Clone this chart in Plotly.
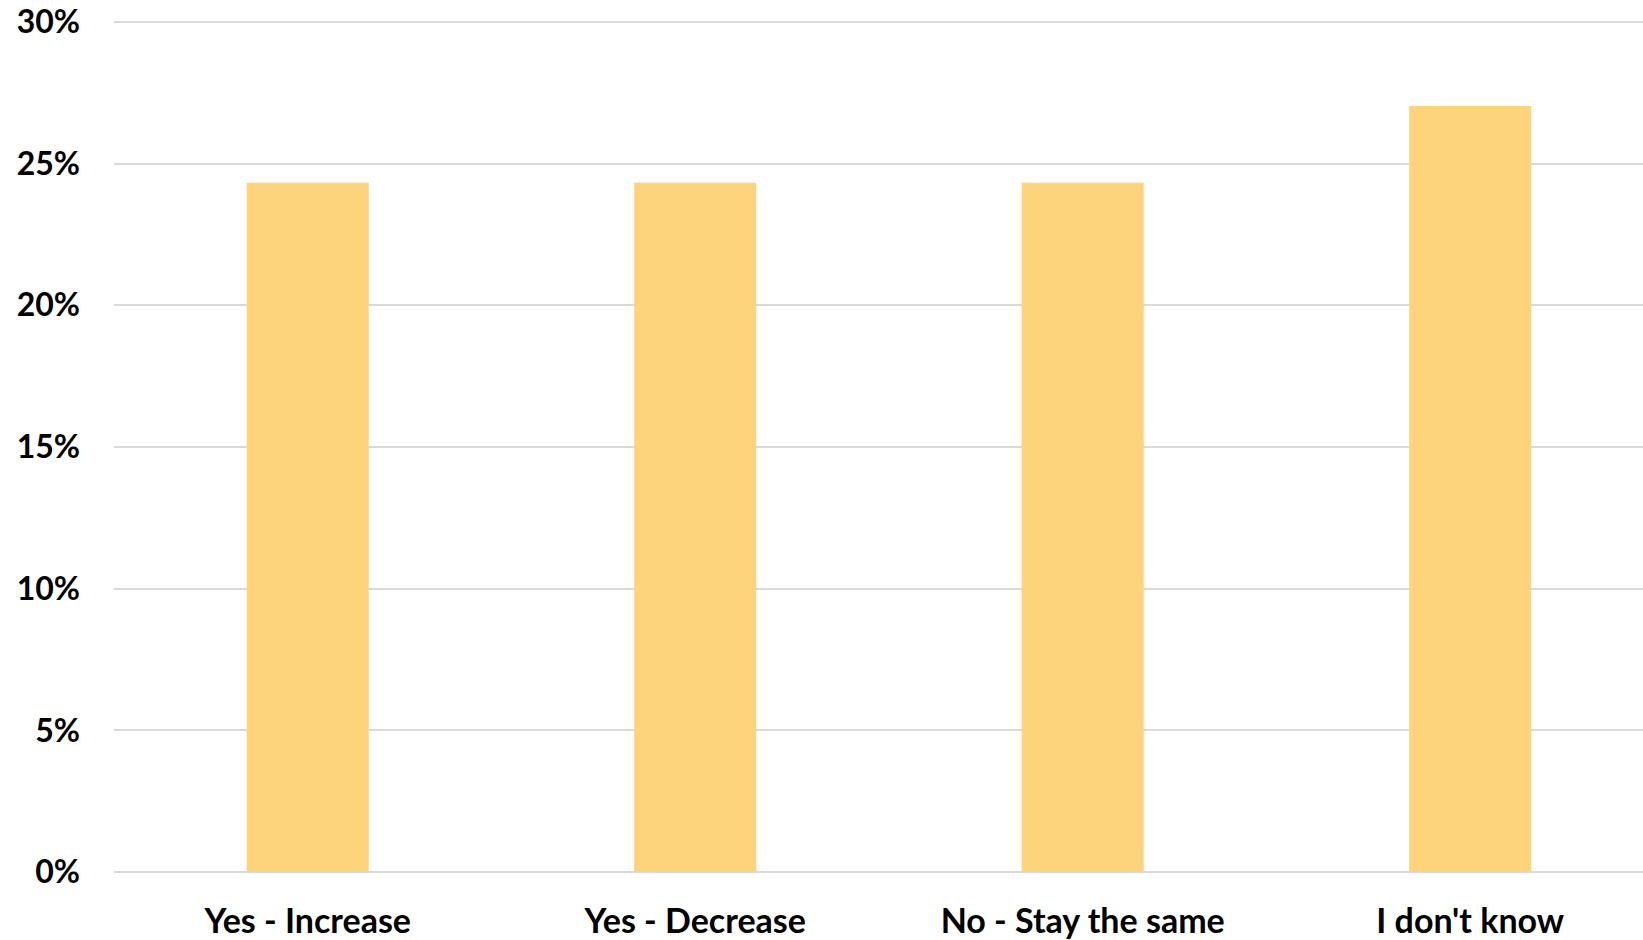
import plotly.graph_objects as go

categories = ["Yes - Increase", "Yes - Decrease", "No - Stay the same", "I don't know"]
values = [9/37, 9/37, 9/37, 10/37]
y_ticks = [0, 0.05, 0.10, 0.15, 0.20, 0.25, 0.30]
y_tick_labels = ["0%", "5%", "10%", "15%", "20%", "25%", "30%"]

fig = go.Figure(go.Bar(x=categories, y=values, marker=dict(color="#FDD47C", line=dict(width=0))))

yfont = dict(family="Lato", size=32, color="#000000", weight="bold")
xfont = dict(family="Lato", size=34, color="#000000", weight="bold")
fig.update_layout(
    width=1643, height=940,
    margin=dict(l=114, r=0, t=19, b=68, autoexpand=False),
    paper_bgcolor="white", plot_bgcolor="white",
    bargap=0.685, showlegend=False,
    font=yfont,
)
fig.update_xaxes(range=[-0.5, 3.446], showgrid=False, showline=False, zeroline=False,
                 ticks="", tickfont=xfont, ticklabelstandoff=26)
fig.update_yaxes(range=[0, 0.301], tickvals=y_ticks, ticktext=y_tick_labels,
                 showgrid=True, gridcolor="#D9D9D9", gridwidth=1.5,
                 zeroline=True, zerolinecolor="#D9D9D9", zerolinewidth=1.5,
                 showline=False, ticks="", tickfont=yfont, ticklabelstandoff=33,
                 ticklabeloverflow="allow")
fig.write_html("out.html", config={"displayModeBar": False},
               post_script="document.body.style.margin='0';document.body.style.overflow='hidden';")
